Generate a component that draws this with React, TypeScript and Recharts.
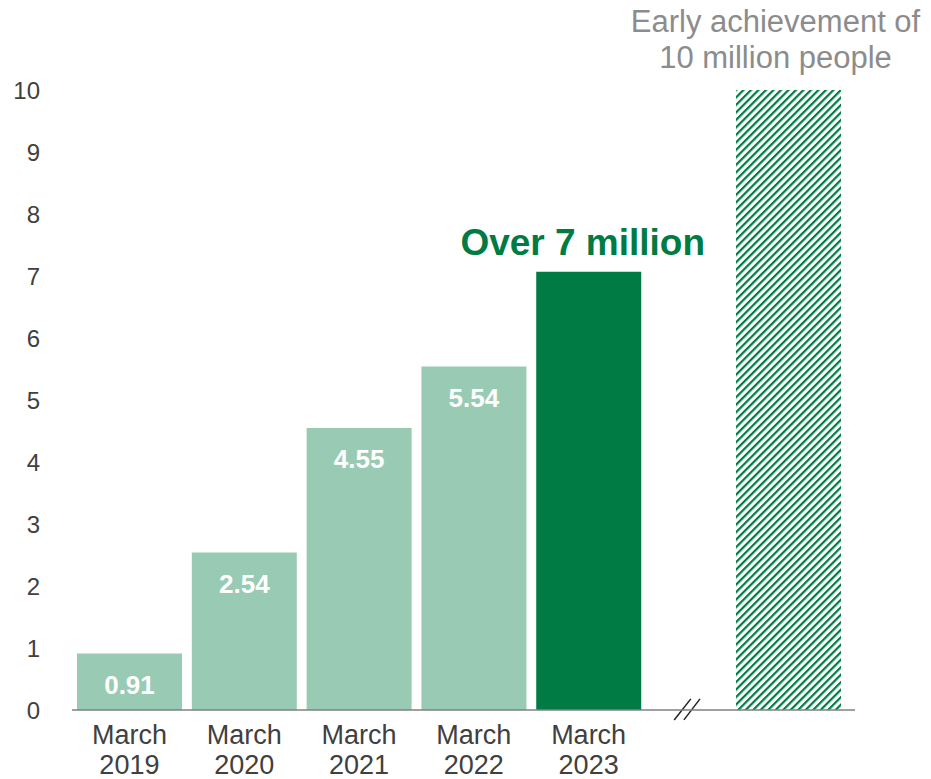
import React from "react";
import { BarChart, Bar, XAxis, YAxis, Cell, LabelList, ReferenceLine } from "recharts";

// categories on the time axis (numeric slot index so the target bar can sit past the break)
const periods = ["March 2019", "March 2020", "March 2021", "March 2022", "March 2023", "Target"];
const slotIndex = [0, 1, 2, 3, 4, 5.74];
const members = [0.91, 2.54, 4.55, 5.54, 7.07, 10]; // million people
const valueLabels = ["0.91", "2.54", "4.55", "5.54", "Over 7 million", "Early achievement of\n10 million people"];
const yTicks = [0, 1, 2, 3, 4, 5, 6, 7, 8, 9, 10];
const xTicks = [0, 1, 2, 3, 4];

const LIGHT = "#99CBB4";
const DARK = "#007B43";
const FONT = "'Liberation Sans', Arial, sans-serif";

const data = periods.map((p, i) => ({ period: p, slot: slotIndex[i], value: members[i], label: valueLabels[i] }));

const PeriodTick = (props: any) => {
  const { x, y, payload } = props;
  const lines = periods[payload.value].split(" ");
  return (
    <text x={x} y={y} textAnchor="middle" fill="#404040" fontSize={27} fontFamily={FONT}>
      <tspan x={x} dy={34}>{lines[0]}</tspan>
      <tspan x={x} dy={30}>{lines[1]}</tspan>
    </text>
  );
};

const BarLabel = (props: any) => {
  const { x, y, width, index, value } = props;
  const cx = Number(x) + Number(width) / 2;
  const top = Number(y);
  if (index === 4) {
    return (
      <text x={cx - 6} y={top - 29} textAnchor="middle" dominantBaseline="central" fill={DARK}
        fontSize={37} fontWeight="bold" fontFamily={FONT}>
        {value}
      </text>
    );
  }
  if (index === 5) {
    const lines = String(value).split("\n");
    return (
      <text x={cx - 13} y={top - 69} textAnchor="middle" fill="#8C8C8C" fontSize={31} fontFamily={FONT}>
        <tspan x={cx - 13} dominantBaseline="central">{lines[0]}</tspan>
        <tspan x={cx - 13} dy={36} dominantBaseline="central">{lines[1]}</tspan>
      </text>
    );
  }
  return (
    <text x={cx} y={top + 31} textAnchor="middle" dominantBaseline="central" fill="#ffffff"
      fontSize={26} fontWeight="bold" fontFamily={FONT}>
      {value}
    </text>
  );
};

export default function App() {
  return (
    <div style={{ position: "absolute", left: 0, top: 0, width: 931, height: 779, background: "#fff" }}>
      <svg width={0} height={0} style={{ position: "absolute" }}>
        <defs>
          <pattern id="hatch" patternUnits="userSpaceOnUse" width={5.3} height={5.3} patternTransform="rotate(45)">
            <rect x={0} y={0} width={2.2} height={5.3} fill={DARK} />
          </pattern>
        </defs>
      </svg>
      <BarChart width={931} height={779} data={data} margin={{ top: 90, right: 76, left: 0, bottom: 0 }}>
        <XAxis
          dataKey="slot"
          type="number"
          domain={[-0.5, 6.32]}
          ticks={xTicks}
          interval={0}
          height={69}
          tickSize={0}
          tickMargin={0}
          tick={<PeriodTick />}
          axisLine={{ stroke: "#808080", strokeWidth: 1.5 }}
          tickLine={false}
        />
        <YAxis
          type="number"
          domain={[0, 10]}
          ticks={yTicks}
          interval={0}
          width={72}
          axisLine={false}
          tickLine={false}
          tickSize={0}
          tickMargin={32}
          tick={{ fill: "#404040", fontSize: 24, fontFamily: FONT }}
        />
        <Bar dataKey="value" barSize={105} isAnimationActive={false}>
          {data.map((d, i) => (
            <Cell key={d.period} fill={i < 4 ? LIGHT : i === 4 ? DARK : "url(#hatch)"} />
          ))}
          <LabelList dataKey="label" content={<BarLabel />} />
        </Bar>
        <ReferenceLine
          segment={[{ x: 4.745, y: -0.16 }, { x: 4.89, y: 0.18 }]}
          stroke="#222"
          strokeWidth={1.5}
          ifOverflow="visible"
        />
        <ReferenceLine
          segment={[{ x: 4.83, y: -0.16 }, { x: 4.97, y: 0.18 }]}
          stroke="#222"
          strokeWidth={1.5}
          ifOverflow="visible"
        />
      </BarChart>
    </div>
  );
}
